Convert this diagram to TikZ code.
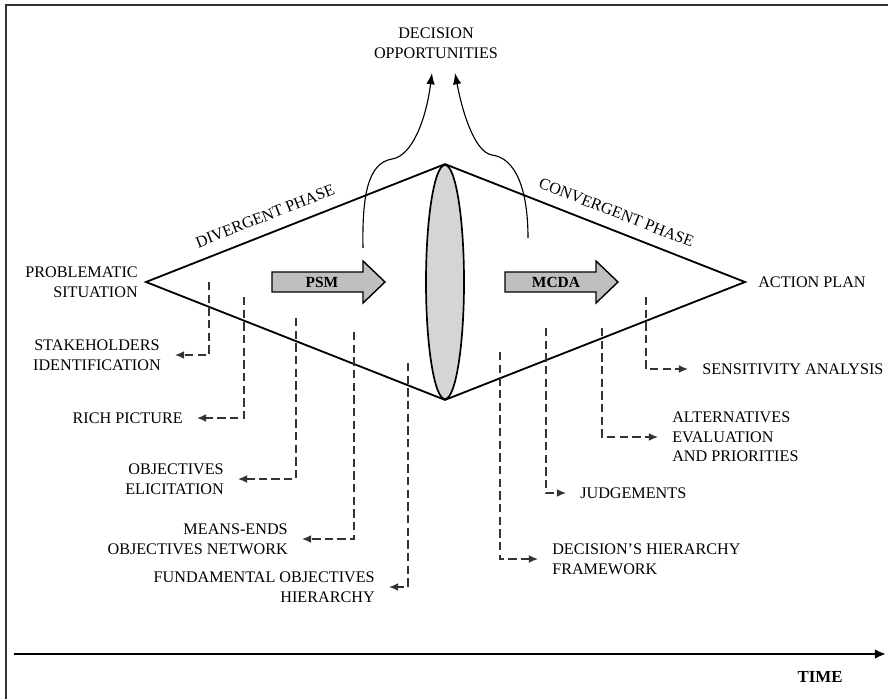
\documentclass[tikz,border=0pt]{standalone}
\usepackage{fontspec}
\setmainfont{Liberation Serif}
\usetikzlibrary{arrows.meta,shapes.geometric}
\begin{document}
\begin{tikzpicture}[x=0.025cm, y=-0.025cm]
    \tikzset{lbl/.style={font=\fontsize{11.5}{14}\selectfont, inner sep=0pt}}
    \tikzset{phase/.style={lbl, above=8pt, sloped}}
    \tikzset{dashlink/.style={draw=black!80, line width=0.8pt, dash pattern=on 6pt off 3pt, -{Latex[length=6.5pt, width=5.5pt]}, shorten >=0.35cm}}
    \tikzset{bigarrow/.style={draw, line width=1pt, fill=gray!50}}
    \tikzset{opp/.style={line width=0.8pt, -{Latex[length=8pt, width=6pt]}}}
    \useasboundingbox (0,0) rectangle (888,699);
    % frame
    \draw[line width=1.4pt, black!80] (888,5) -- (6,5) -- (6,699);
    % lens and diamond
    \node[ellipse, draw, line width=1.2pt, fill=gray!33, minimum width=0.95cm, minimum height=5.85cm, inner sep=0pt] (lens) at (445,282) {};
    \coordinate (west) at (146,282);
    \coordinate (east) at (745,282);
    \draw[line width=1.3pt] (west) -- node[phase, pos=0.42] (divph) {DIVERGENT PHASE} (lens.north)
        -- node[phase, pos=0.55] (convph) {CONVERGENT PHASE} (east) -- (lens.south) -- cycle;
    \node[lbl, anchor=east, align=right] (probsit) at (138,282) {PROBLEMATIC\\SITUATION};
    \node[lbl, anchor=west] (action) at (758,282) {ACTION PLAN};
    % PSM and MCDA arrows
    \draw[bigarrow] (272,272) -- (363,272) -- (363,261) -- (385,282) -- (363,303) -- (363,292) -- (272,292) -- cycle;
    \node[lbl, font=\fontsize{11}{14}\selectfont\bfseries] (psm) at (322,282) {PSM};
    \draw[bigarrow] (505,272) -- (596,272) -- (596,261) -- (618,282) -- (596,303) -- (596,292) -- (505,292) -- cycle;
    \node[lbl, font=\fontsize{11}{14}\selectfont\bfseries] (mcda) at (556,282) {MCDA};
    % decision opportunities
    \node[lbl, align=center] (decopp) at (436,43) {DECISION\\OPPORTUNITIES};
    \coordinate (oppL) at (363,248);
    \coordinate (tipL) at (432,73);
    \coordinate (oppR) at (528,238);
    \coordinate (tipR) at (455,73);
    \draw[opp] (oppL) .. controls (362,195) and (368,163) .. (392,159)
        .. controls (412,156) and (426,120) .. (tipL);
    \draw[opp] (oppR) .. controls (528,190) and (516,158) .. (492,155)
        .. controls (474,152) and (462,110) .. (tipR);
    % labels on the left
    \node[lbl, anchor=east, align=center] (stake) at (161,355) {STAKEHOLDERS\\IDENTIFICATION};
    \node[lbl, anchor=east] (rich) at (183,418) {RICH PICTURE};
    \node[lbl, anchor=east, align=right] (objel) at (224,479) {OBJECTIVES\\ELICITATION};
    \node[lbl, anchor=east, align=right] (means) at (288,539) {MEANS-ENDS\\OBJECTIVES NETWORK};
    \node[lbl, anchor=east, align=right] (fundobj) at (375,587) {FUNDAMENTAL OBJECTIVES\\HIERARCHY};
    % labels on the right
    \node[lbl, anchor=west, align=left] (decfw) at (552,559) {DECISION'S HIERARCHY\\FRAMEWORK};
    \node[lbl, anchor=west] (judg) at (580,493) {JUDGEMENTS};
    \node[lbl, anchor=west, align=left] (altev) at (672,437) {ALTERNATIVES\\EVALUATION\\AND PRIORITIES};
    \node[lbl, anchor=west] (sens) at (702,369) {SENSITIVITY ANALYSIS};
    % dashed links
    \coordinate (ds1) at (209,282);
    \coordinate (ds2) at (244,297);
    \coordinate (ds3) at (296,318);
    \coordinate (ds4) at (354,332);
    \coordinate (ds5) at (408,363);
    \coordinate (ds6) at (500,352);
    \coordinate (ds7) at (546,328);
    \coordinate (ds8) at (602,328);
    \coordinate (ds9) at (646,297);
    \draw[dashlink] (ds1) |- (stake);
    \draw[dashlink] (ds2) |- (rich);
    \draw[dashlink] (ds3) |- (objel);
    \draw[dashlink] (ds4) |- (means);
    \draw[dashlink] (ds5) |- (fundobj);
    \draw[dashlink] (ds6) |- (decfw);
    \draw[dashlink] (ds7) |- (judg);
    \draw[dashlink] (ds8) |- (altev);
    \draw[dashlink] (ds9) |- (sens);
    % time axis
    \coordinate (t0) at (14,654);
    \coordinate (t1) at (886,654);
    \draw[line width=2pt, -{Latex[length=8pt, width=7pt]}] (t0) -- (t1);
    \node[lbl, font=\fontsize{12}{14}\selectfont\bfseries] (time) at (820,677) {TIME};
\end{tikzpicture}
\end{document}
